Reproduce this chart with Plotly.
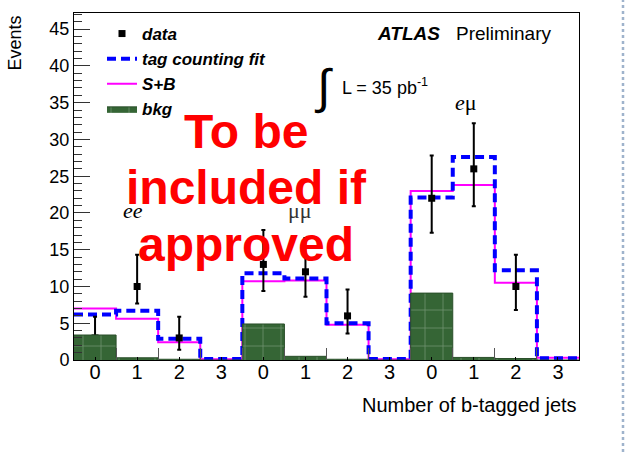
import plotly.graph_objects as go

# ---- data ----
bin_edges = list(range(13))
tick_labels = ["0", "1", "2", "3", "0", "1", "2", "3", "0", "1", "2", "3"]
data_counts = [3, 10, 3, None, 13, 12, 6, None, 22, 26, 10, None]
data_err_up = [2.9, 4.3, 2.9, None, 4.7, 4.6, 3.6, None, 5.8, 6.2, 4.3, None]
data_err_down = [1.6, 2.3, 1.6, None, 3.6, 3.4, 2.4, None, 4.7, 5.1, 3.2, None]
fit_counts = [6.2, 6.7, 2.9, 0.15, 11.8, 11.1, 5.0, 0.15, 22.1, 27.6, 12.2, 0.25]
sb_counts = [7.0, 5.6, 2.4, 0.1, 10.7, 10.8, 4.8, 0.1, 23.0, 23.8, 10.5, 0.3]
bkg_counts = [3.4, 0.3, 0.1, 0.0, 4.9, 0.5, 0.1, 0.0, 9.1, 0.35, 0.2, 0.0]

bin_centers = [e + 0.5 for e in bin_edges[:-1]]


def step(vals):
    return vals + [vals[-1]]


FONT = "Liberation Sans, Arial, sans-serif"
SERIF = "Liberation Serif, Times New Roman, serif"
GREEN = "#356535"

fig = go.Figure()

fig.add_trace(go.Scatter(
    x=bin_edges, y=step(sb_counts), mode="lines",
    line=dict(shape="hv", color="#FF00FF", width=2),
    name="<b><i>S+B</i></b>", legendrank=3,
))
fig.add_trace(go.Scatter(
    x=bin_edges, y=step(fit_counts), mode="lines",
    line=dict(shape="hv", color="#0000FF", width=4, dash="9px,5px"),
    name="<b><i>tag counting fit</i></b>", legendrank=2,
))
fig.add_trace(go.Scatter(
    x=bin_centers, y=data_counts, mode="markers",
    marker=dict(symbol="square", size=7, color="black"),
    error_y=dict(type="data", symmetric=False, array=data_err_up,
                 arrayminus=data_err_down, color="black", thickness=2, width=2),
    name="<b><i>data</i></b>", legendrank=1,
))
fig.add_trace(go.Scatter(
    x=bin_edges, y=step(bkg_counts), mode="lines",
    line=dict(shape="hv", color="#2A4F2A", width=1),
    fill="tozeroy", fillcolor=GREEN,
    fillpattern=dict(shape="+", bgcolor=GREEN, fgcolor="rgba(255,255,255,0.6)",
                     size=18, solidity=0.08),
    name="<b><i>bkg</i></b>", legendrank=4,
))

ann = []
# axis titles
ann.append(dict(text="Events", xref="paper", yref="paper", x=-0.117, y=1.0,
                xanchor="center", yanchor="top", textangle=-90, showarrow=False,
                font=dict(family=FONT, size=18, color="black")))
ann.append(dict(text="Number of b-tagged jets", xref="paper", yref="paper",
                x=1.0, y=-0.13, xanchor="right", yanchor="middle", showarrow=False,
                font=dict(family=FONT, size=20, color="black")))
# ATLAS label
ann.append(dict(text="<b><i>ATLAS</i></b>", xref="paper", yref="paper",
                x=(408 - 74) / 505, y=(360 - 34) / 347, xanchor="center",
                yanchor="middle", showarrow=False,
                font=dict(family=FONT, size=19, color="black")))
ann.append(dict(text="Preliminary", xref="paper", yref="paper",
                x=(504 - 74) / 505, y=(360 - 34) / 347, xanchor="center",
                yanchor="middle", showarrow=False,
                font=dict(family=FONT, size=19, color="black")))
# luminosity
ann.append(dict(text="∫", xref="paper", yref="paper",
                x=(323 - 74) / 505, y=(360 - 87) / 347, xanchor="center",
                yanchor="middle", showarrow=False,
                font=dict(family=FONT, size=48, color="black")))
ann.append(dict(text="L = 35 pb<sup>-1</sup>", xref="paper", yref="paper",
                x=(340 - 74) / 505, y=(360 - 87) / 347, xanchor="left",
                yanchor="middle", showarrow=False,
                font=dict(family=FONT, size=18, color="black")))
# channel labels
ann.append(dict(text="<i>ee</i>", x=1.40, y=20.4, showarrow=False,
                font=dict(family=SERIF, size=22, color="black")))
ann.append(dict(text="μμ", x=5.37, y=20.4, showarrow=False,
                font=dict(family=SERIF, size=22, color="#333333")))
ann.append(dict(text="<i>e</i>μ", x=9.32, y=35.0, showarrow=False,
                font=dict(family=SERIF, size=22, color="black")))
# overlay notice
for txt, ypx in [("To be", 131), ("included if", 187), ("approved", 244)]:
    ann.append(dict(text="<b>" + txt + "</b>", xref="paper", yref="paper",
                    x=(246 - 74) / 505, y=(360 - ypx) / 347, xanchor="center",
                    yanchor="middle", showarrow=False,
                    font=dict(family=FONT, size=48, color="#FF0000")))

fig.update_layout(
    width=637, height=452,
    margin=dict(l=74, r=58, t=13, b=92, autoexpand=False),
    paper_bgcolor="white", plot_bgcolor="white",
    showlegend=True,
    legend=dict(x=(102 - 74) / 505, y=(360 - 16) / 347, xanchor="left", yanchor="top",
                bgcolor="rgba(0,0,0,0)", font=dict(family=FONT, size=17, color="black"),
                tracegroupgap=0, traceorder="normal"),
    annotations=ann,
    shapes=[dict(type="line", xref="paper", yref="paper",
                 x0=(623 - 74) / 505, x1=(623 - 74) / 505, y0=-0.3, y1=1.1,
                 line=dict(color="#9FB3CC", width=2.5, dash="dot"))],
    xaxis=dict(range=[0, 12], showline=True, linecolor="black", linewidth=1,
               mirror=True, showgrid=False, zeroline=False,
               tickmode="array", tickvals=bin_centers, ticktext=tick_labels,
               ticks="inside", ticklen=3, tickcolor="black",
               ticklabelstandoff=-6,
               minor=dict(tickmode="array", tickvals=bin_edges, ticks="inside",
                          ticklen=12, tickcolor="#555555", showgrid=False),
               tickfont=dict(family=FONT, size=20, color="black")),
    yaxis=dict(range=[0, 47.2], showline=True, linecolor="black", linewidth=1,
               mirror=True, showgrid=False, zeroline=False,
               tick0=0, dtick=5, ticks="inside", ticklen=16, tickcolor="#333333",
               minor=dict(dtick=1, ticks="inside", ticklen=8, tickcolor="#333333",
                          showgrid=False),
               tickfont=dict(family=FONT, size=18, color="black")),
)

fig.write_html("out.html", config={"displayModeBar": False},
               post_script="document.body.style.margin='0';")
